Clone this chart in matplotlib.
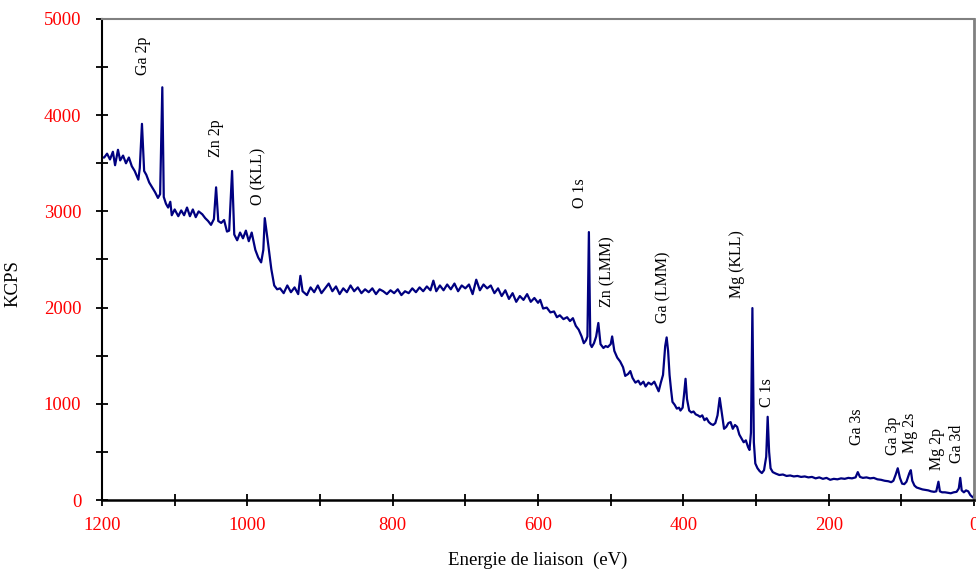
import matplotlib
matplotlib.use('Agg')
import matplotlib.pyplot as plt
from matplotlib.ticker import MultipleLocator

# XPS survey spectrum: binding energy (eV) and KCPS
energy = [1200, 1197, 1193, 1189, 1185, 1182, 1178, 1175, 1171, 1167, 1163, 1159, 1155, 1150,
          1148, 1145, 1142, 1139, 1135, 1131, 1127, 1123, 1120, 1117, 1115, 1112, 1109, 1106,
          1104, 1100, 1095, 1091, 1087, 1083, 1079, 1075, 1071, 1067, 1062, 1058, 1054, 1050,
          1046, 1043, 1040, 1036, 1032, 1028, 1025, 1021, 1018, 1014, 1010, 1006, 1002, 998,
          994, 989, 985, 981, 978, 976, 972, 967, 963, 959,
          955, 950, 945, 940, 935, 930, 927, 924, 918, 913, 908, 903, 898, 893, 888, 883,
          878, 873, 868, 863, 858, 853, 848, 843, 838, 833, 828, 823, 818, 813, 808, 803,
          798, 793, 788, 783, 778, 773, 768, 763, 758, 753, 748, 744, 740, 735, 730, 725,
          720, 715, 710, 705, 700, 695, 690, 685, 680, 675, 670, 665, 660, 655, 650, 645,
          640, 635, 630, 625, 620, 615, 610, 605, 600, 597, 593, 588, 583, 578, 574, 570,
          565, 560, 556, 552, 548, 544, 540, 537, 534, 532, 530, 528, 526, 523, 520, 517,
          514, 510, 507, 504, 500, 498, 495, 491, 487, 483, 480, 476, 473, 470, 466, 462,
          459, 455, 452, 448, 444, 440, 437, 434, 431, 428, 425, 423, 421, 419, 417, 415,
          412, 409, 406, 404, 401, 399, 397, 395, 392, 389, 386, 383, 380, 377, 374, 371,
          368, 365, 362, 359, 356, 353, 350, 347, 344, 341, 338, 335, 332, 329, 326, 323,
          320, 317, 314, 311, 309, 307, 305, 303, 301, 298, 295, 292, 289, 286, 284, 282,
          280, 277, 273, 268, 263, 258, 253, 248, 243, 238, 233, 228, 223, 218, 213, 208,
          203, 198, 193, 188, 183, 178, 173, 168, 163, 160, 157, 153, 148, 143, 138, 133,
          128, 123, 118, 114, 111, 108, 105, 102, 99, 96, 93, 89, 87, 85, 82, 79,
          75, 71, 67, 63, 59, 55, 52, 49, 47, 44, 40, 36, 32, 28, 24, 21,
          19, 17, 14, 11, 8, 5, 2, 0]
kcps = [3560, 3560, 3600, 3540, 3620, 3480, 3640, 3530, 3580, 3500, 3560, 3470, 3420, 3330,
        3450, 3910, 3420, 3380, 3300, 3250, 3200, 3140, 3180, 4290, 3150, 3080, 3040, 3100,
        2960, 3020, 2950, 3010, 2960, 3040, 2950, 3020, 2940, 3000, 2970, 2930, 2900, 2860,
        2920, 3250, 2900, 2880, 2910, 2790, 2800, 3420, 2760, 2700, 2780, 2720, 2800, 2690,
        2780, 2600, 2520, 2470, 2600, 2930, 2700, 2400, 2230, 2190,
        2200, 2150, 2230, 2160, 2210, 2140, 2330, 2170, 2130, 2210, 2160, 2230, 2150, 2200, 2250, 2170,
        2220, 2140, 2200, 2160, 2230, 2170, 2210, 2150, 2190, 2160, 2200, 2140, 2190, 2170, 2140, 2180,
        2150, 2190, 2130, 2170, 2150, 2200, 2160, 2210, 2170, 2220, 2180, 2280, 2170, 2230, 2180, 2240,
        2190, 2250, 2170, 2230, 2200, 2240, 2140, 2290, 2180, 2240, 2200, 2230, 2150, 2200, 2120, 2180,
        2090, 2150, 2060, 2120, 2080, 2140, 2060, 2100, 2050, 2080, 1990, 2000, 1950, 1960, 1900, 1920,
        1880, 1900, 1860, 1890, 1810, 1770, 1700, 1630, 1660, 1700, 2785, 1620, 1590, 1630, 1700, 1840,
        1620, 1580, 1600, 1590, 1620, 1700, 1550, 1480, 1440, 1380, 1290, 1310, 1340, 1270, 1220, 1240,
        1200, 1230, 1180, 1220, 1200, 1230, 1180, 1130, 1220, 1300, 1600, 1690, 1550, 1300, 1150, 1020,
        990, 950, 960, 930, 960, 1100, 1260, 1050, 930, 910, 920, 890, 880, 865, 880, 830,
        850, 810, 790, 780, 800, 880, 1060, 900, 740, 760, 800, 810, 740, 780, 760, 680,
        640, 600, 620, 550, 520, 700, 1995, 600, 380, 330, 300, 280, 310, 450, 865, 500,
        330, 290, 275, 260, 265, 250, 255, 245, 250, 240, 245, 235, 240, 225, 235, 220,
        230, 210, 220, 215, 225, 220, 230, 225, 235, 290, 240, 230, 235, 225, 230, 215,
        210, 200, 195, 185, 200, 260, 330, 230, 170, 165, 190, 280, 310, 200, 150, 130,
        120, 110, 105, 100, 90, 85, 90, 190, 90, 80, 80, 75, 70, 80, 85, 120,
        230, 100, 80, 100, 90, 50, 30, 20]

# peak labels: text, energy position, KCPS of the label's lower end
peak_names = ['Ga 2p', 'Zn 2p', 'O (KLL)', 'O 1s', 'Zn (LMM)', 'Ga (LMM)', 'Mg (KLL)',
              'C 1s', 'Ga 3s', 'Ga 3p', 'Mg 2s', 'Mg 2p', 'Ga 3d']
peak_x = [1144, 1043, 985, 542, 504, 427, 326, 285, 161, 112, 88, 51, 23]
peak_y = [4418, 3565, 3067, 3035, 2006, 1840, 2100, 967, 572, 468, 489, 312, 385]

serif = ['Liberation Serif', 'DejaVu Serif']

fig = plt.figure(figsize=(9.76, 5.70), dpi=100)
ax = fig.add_axes([0.1045, 0.1228, 0.8935, 0.8439])

ax.plot(energy, kcps, color='#000080', linewidth=1.6)

for name, px, py in zip(peak_names, peak_x, peak_y):
    ax.text(px, py, name, rotation=90, ha='center', va='bottom',
            fontsize=11.5, family=serif, color='black')

ax.set_xlim(1200, 0)
ax.set_ylim(0, 5000)
ax.xaxis.set_major_locator(MultipleLocator(200))
ax.xaxis.set_minor_locator(MultipleLocator(100))
ax.yaxis.set_major_locator(MultipleLocator(1000))
ax.yaxis.set_minor_locator(MultipleLocator(500))
ax.tick_params(which='both', direction='inout', length=8, width=1.3, color='black')
ax.tick_params(axis='x', which='major', pad=8)
ax.tick_params(axis='y', which='major', pad=11)
for lab in ax.get_xticklabels() + ax.get_yticklabels():
    lab.set_family(serif)
    lab.set_fontsize(13.5)
    lab.set_color('red')

ax.spines['left'].set_color('black')
ax.spines['bottom'].set_color('black')
ax.spines['left'].set_linewidth(1.5)
ax.spines['bottom'].set_linewidth(1.8)
ax.spines['top'].set_color('#808080')
ax.spines['right'].set_color('#808080')
ax.spines['top'].set_linewidth(1.5)
ax.spines['right'].set_linewidth(2)

ax.set_xlabel('Energie de liaison  (eV)', fontsize=13.5, family=serif)
ax.set_ylabel('KCPS', fontsize=13.5, family=serif)
ax.xaxis.set_label_coords(0.5, -0.108)
ax.yaxis.set_label_coords(-0.092, 0.45)

plt.savefig('out.png', dpi=100)
